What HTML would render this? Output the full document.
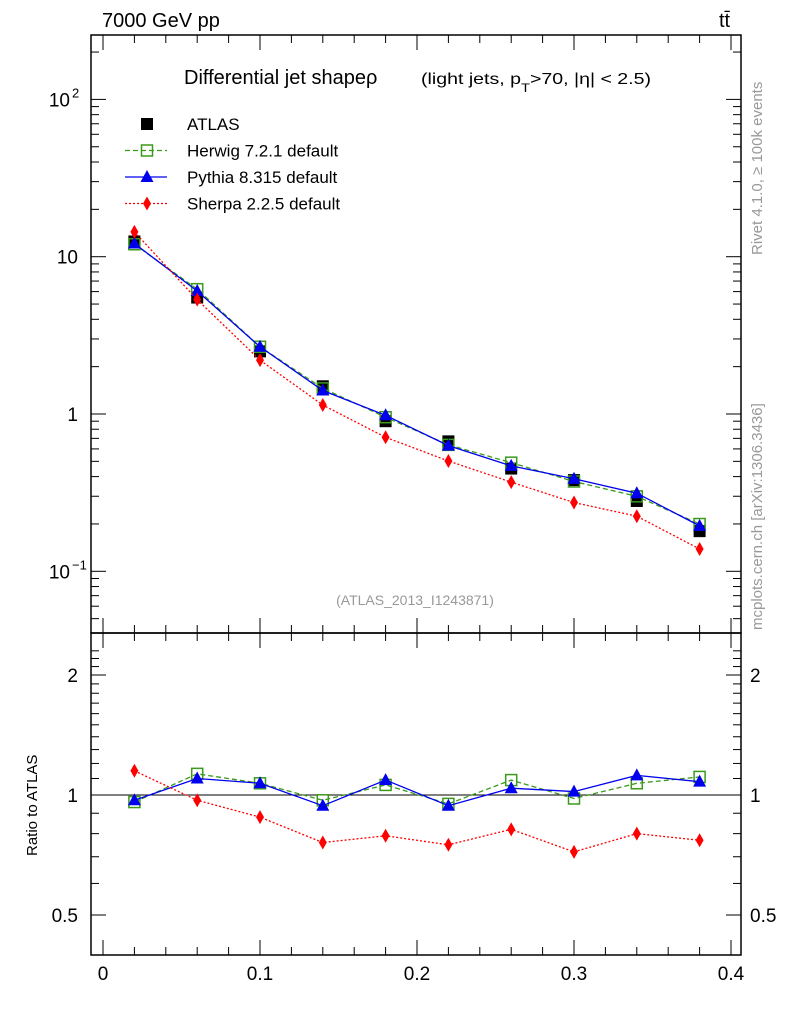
<!DOCTYPE html>
<html><head><meta charset="utf-8"><style>
body{margin:0;background:#fff;}
svg{display:block;font-family:"Liberation Sans",sans-serif;}
</style></head><body>
<svg id="c" width="786" height="1024" xmlns="http://www.w3.org/2000/svg"></svg>
<script>
const xVals=[0.02,0.06,0.10,0.14,0.18,0.22,0.26,0.30,0.34,0.38];
const atlas=[12.5,5.5,2.5,1.5,0.9,0.67,0.45,0.38,0.28,0.18];
const herwigRatio=[0.96,1.13,1.07,0.97,1.06,0.95,1.09,0.98,1.07,1.11];
const pythiaRatio=[0.97,1.10,1.07,0.94,1.09,0.94,1.04,1.02,1.12,1.08];
const sherpaRatio=[1.15,0.97,0.88,0.76,0.79,0.75,0.82,0.72,0.80,0.77];
const xTicks=[0,0.1,0.2,0.3,0.4];
const xTickLabels=["0","0.1","0.2","0.3","0.4"];
const ratioTicks=[0.5,1,2];
const ratioTickLabels=["0.5","1","2"];

const NS="http://www.w3.org/2000/svg";
const svg=document.getElementById('c');
function el(t,a,txt,parent){const e=document.createElementNS(NS,t);for(const k in a)e.setAttribute(k,a[k]);if(txt!==undefined)e.textContent=txt;(parent||svg).appendChild(e);return e;}
const L=91,R=741,T=35,M=633,B=955;
const X=v=>103+v*1570;
const Y=v=>414-Math.log10(v)*157.3;
const YR=v=>795-Math.log10(v)*398.6;

let f=el('rect',{x:L,y:T,width:R-L,height:M-T,fill:'none',stroke:'#000','stroke-width':1.5});

f=el('rect',{x:L,y:M,width:R-L,height:B-M,fill:'none',stroke:'#000','stroke-width':1.5});


for(let v=0;v<=0.4001;v+=0.02){
  const major=Math.abs(v*10-Math.round(v*10))<1e-6;const len=major?15:8;const x=X(v);
  for(const [y0,dir] of [[M,-1],[T,1],[B,-1],[M,1]]){el('line',{x1:x,x2:x,y1:y0,y2:y0+dir*len,stroke:'#000'});}
}
xTicks.forEach((v,i)=>{const t=el('text',{x:X(v),y:980,'font-size':19,'text-anchor':'middle'},xTickLabels[i]);
});

for(let d=-2;d<=2;d++){for(let m=1;m<10;m++){const v=m*Math.pow(10,d);const y=Y(v);if(y<T||y>M)continue;const len=m==1?15:8;
el('line',{x1:L,x2:L+len,y1:y,y2:y,stroke:'#000'});el('line',{x1:R,x2:R-len,y1:y,y2:y,stroke:'#000'});}}
const yl=[[Y(100),'10','2'],[Y(10),'10',''],[Y(1),'1',''],[Y(0.1),'10','−1']];
yl.forEach(([y,b,e])=>{const t=el('text',{x:e?70:78,y:y+7,'font-size':19,'text-anchor':'end'},b);

if(e){const s=el('text',{x:72,y:y-2,'font-size':13},e);}});

for(let v=0.5;v<=2.31;v+=0.1){const y=YR(v);const maj=ratioTicks.some(r=>Math.abs(r-v)<1e-6);const len=maj?15:8;
el('line',{x1:L,x2:L+len,y1:y,y2:y,stroke:'#000'});el('line',{x1:R,x2:R-len,y1:y,y2:y,stroke:'#000'});}
ratioTicks.forEach((v,i)=>{let t=el('text',{x:78,y:YR(v)+7,'font-size':19,'text-anchor':'end'},ratioTickLabels[i]);

t=el('text',{x:750,y:YR(v)+7,'font-size':19},ratioTickLabels[i]);
});
el('line',{x1:L,x2:R,y1:YR(1),y2:YR(1),stroke:'#000'});

let t=el('text',{x:102,y:27,'font-size':20},'7000 GeV pp');
t=el('text',{x:719,y:27,'font-size':20},'tt̄');
t=el('text',{x:184,y:84,'font-size':20},'Differential jet shapeρ');
t=el('text',{x:421,y:84,'font-size':16,textLength:230,lengthAdjust:'spacingAndGlyphs'});
el('tspan',{},'(light jets, p',t);el('tspan',{'font-size':12,dy:8},'T',t);el('tspan',{dy:-8},'>70, |η| < 2.5)',t);
t=el('text',{x:415,y:605,'font-size':14,fill:'#999','text-anchor':'middle'},'(ATLAS_2013_I1243871)');
t=el('text',{x:0,y:0,'font-size':15,fill:'#999',transform:'translate(762,255) rotate(-90)'},'Rivet 4.1.0, ≥ 100k events');
t=el('text',{x:0,y:0,'font-size':15,fill:'#999',transform:'translate(762,630) rotate(-90)'},'mcplots.cern.ch [arXiv:1306.3436]');
t=el('text',{x:0,y:0,'font-size':15,transform:'translate(37,856) rotate(-90)'},'Ratio to ATLAS');

function marker(kind,x,y,c){
  if(kind=='sq')return el('rect',{x:x-6,y:y-6,width:12,height:12,fill:'#000'});
  if(kind=='osq')return el('rect',{x:x-5.5,y:y-5.5,width:11,height:11,fill:'none',stroke:c,'stroke-width':1.5});
  if(kind=='tri')return el('polygon',{points:`${x},${y-7} ${x-6.5},${y+5} ${x+6.5},${y+5}`,fill:c});
  return el('polygon',{points:`${x},${y-7} ${x-4},${y} ${x},${y+7} ${x+4},${y}`,fill:c});
}
const series=[
 {name:'herwig',r:herwigRatio,c:'#3a9a1a',dash:'5,3',m:'osq'},
 {name:'pythia',r:pythiaRatio,c:'#0000ee',dash:'',m:'tri'},
 {name:'sherpa',r:sherpaRatio,c:'#ff0000',dash:'2,2',m:'dia'}];
xVals.forEach((x,i)=>{const m=marker('sq',X(x),Y(atlas[i]));});
series.forEach(s=>{
  const main=xVals.map((x,i)=>[X(x),Y(atlas[i]*s.r[i])]);
  const rat=xVals.map((x,i)=>[X(x),YR(s.r[i])]);
  let p=el('polyline',{points:main.map(p=>p.join(',')).join(' '),fill:'none',stroke:s.c,'stroke-width':1.3,'stroke-dasharray':s.dash});
  
  p=el('polyline',{points:rat.map(p=>p.join(',')).join(' '),fill:'none',stroke:s.c,'stroke-width':1.3,'stroke-dasharray':s.dash});
  
  main.forEach(q=>{const m=marker(s.m,q[0],q[1],s.c);});
  rat.forEach(q=>{const m=marker(s.m,q[0],q[1],s.c);});
});
const leg=[['ATLAS','sq','#000',''],['Herwig 7.2.1 default','osq','#3a9a1a','5,3'],['Pythia 8.315 default','tri','#0000ee',''],['Sherpa 2.2.5 default','dia','#ff0000','2,2']];
leg.forEach((l,i)=>{const y=124+i*26.5;
  if(i>0){const ln=el('line',{x1:125,x2:167,y1:y,y2:y,stroke:l[2],'stroke-width':1.3,'stroke-dasharray':l[3]});}
  const m=marker(l[1],147,y,l[2]);
  const tx=el('text',{x:187,y:y+6,'font-size':17},l[0]);});
</script>
</body></html>
